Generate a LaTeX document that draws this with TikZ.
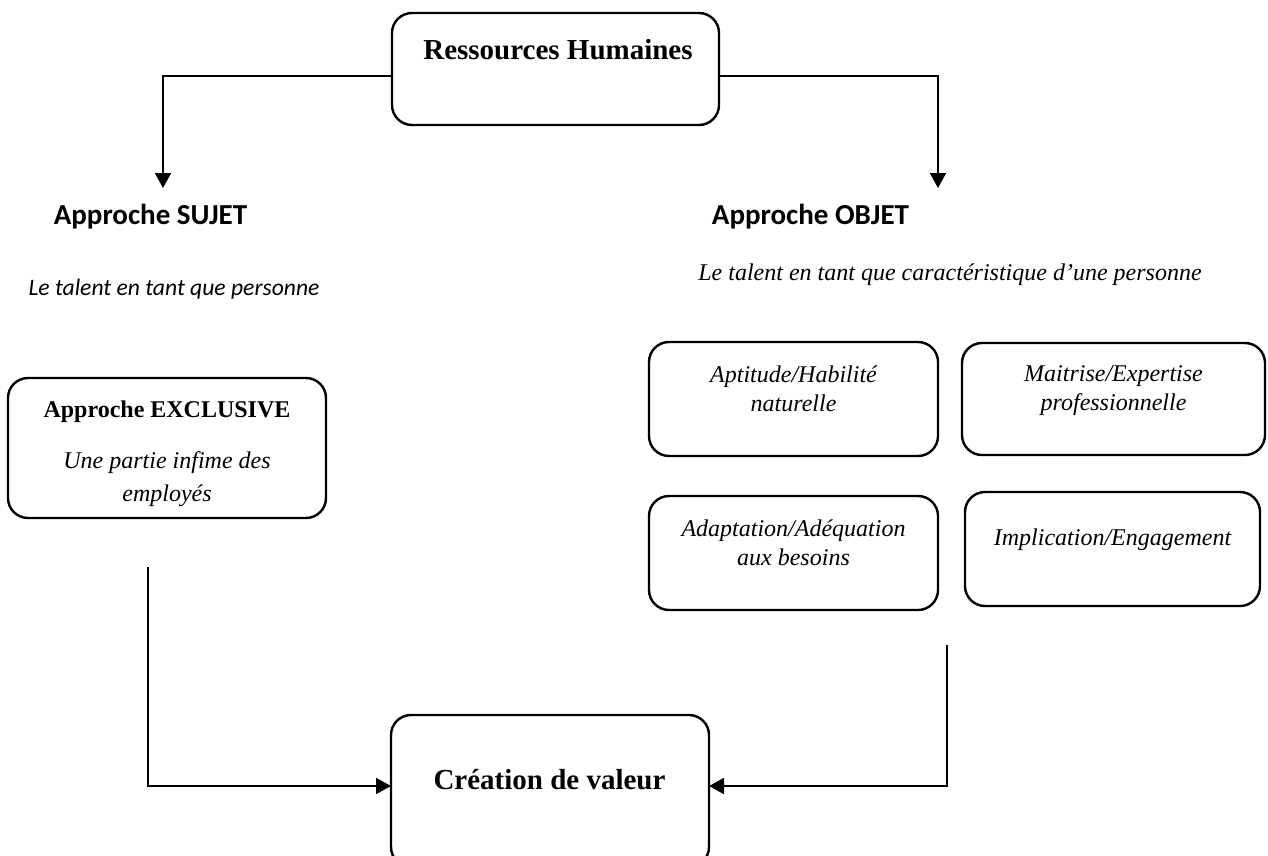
\documentclass[tikz,border=0pt]{standalone}
\usepackage{fontspec}
\setmainfont{Liberation Serif}
\newfontfamily\calibri{Carlito}
\usetikzlibrary{arrows.meta}
\begin{document}
\begin{tikzpicture}[x=0.5pt,y=-0.5pt,
  box/.style={draw, line width=1.2pt, rounded corners=10pt, inner sep=0pt, outer sep=0pt},
  conn/.style={line width=0.9pt},
  arr/.style={conn, -{Triangle[width=8pt,length=7.5pt]}},
  ttl/.style={font=\fontsize{14.5}{17}\selectfont\bfseries},
  cal/.style={font=\calibri\fontsize{14.5}{17}\selectfont\bfseries},
  calit/.style={font=\calibri\fontsize{11.8}{14}\selectfont\itshape},
  ital/.style={font=\fontsize{12}{14.5}\selectfont\itshape, align=center}]
\useasboundingbox (0,0) rectangle (1268,856);
\node[box, minimum width=163.5pt, minimum height=56pt] (rh) at (555.5,69) {};
\node[ttl] (rh-t) at (558,50) {Ressources Humaines};
\coordinate (tipL) at (163,188);
\coordinate (tipR) at (938,188);
\draw[arr] ([yshift=-3.5pt]rh.west) -| (tipL);
\draw[arr] ([yshift=-3.5pt]rh.east) -| (tipR);
\node[cal] (sujet) at (150.5,217) {Approche SUJET};
\node[cal] (objet) at (810.5,217) {Approche OBJET};
\node[calit] (sujet-d) at (174,289) {Le talent en tant que personne};
\node[ital] (objet-d) at (950,275) {Le talent en tant que caractéristique d’une personne};
\node[box, minimum width=159pt, minimum height=70pt] (excl) at (167,448) {};
\node[font=\fontsize{12}{14}\selectfont\bfseries] (excl-t) at (167,412) {Approche EXCLUSIVE};
\node[ital, font=\fontsize{12}{16.5}\selectfont\itshape] (excl-d) at (167,479.5) {Une partie infime des\\employés};
\node[box, minimum width=144.5pt, minimum height=57pt] (apt) at (793.5,399) {};
\node[ital] (apt-t) at (793.5,389) {Aptitude/Habilité\\naturelle};
\node[box, minimum width=151.5pt, minimum height=56pt] (mai) at (1113.5,399) {};
\node[ital] (mai-t) at (1113.5,391) {Maitrise/Expertise\\professionnelle};
\node[box, minimum width=144.5pt, minimum height=57pt] (ada) at (793.5,553) {};
\node[ital] (ada-t) at (793.5,543) {Adaptation/Adéquation\\aux besoins};
\node[box, minimum width=147.5pt, minimum height=57pt] (imp) at (1112.5,549) {};
\node[ital] (imp-t) at (1112.5,540) {Implication/Engagement};
\node[box, minimum width=159pt, minimum height=76pt] (cv) at (550,791) {};
\node[ttl] (cv-t) at (549.5,780) {Création de valeur};
\coordinate (exlow) at (148,567);
\coordinate (oblow) at (947,645);
\draw[arr] (exlow) |- ([yshift=2.5pt]cv.west);
\draw[arr] (oblow) |- ([yshift=2.5pt]cv.east);
\end{tikzpicture}
\end{document}
